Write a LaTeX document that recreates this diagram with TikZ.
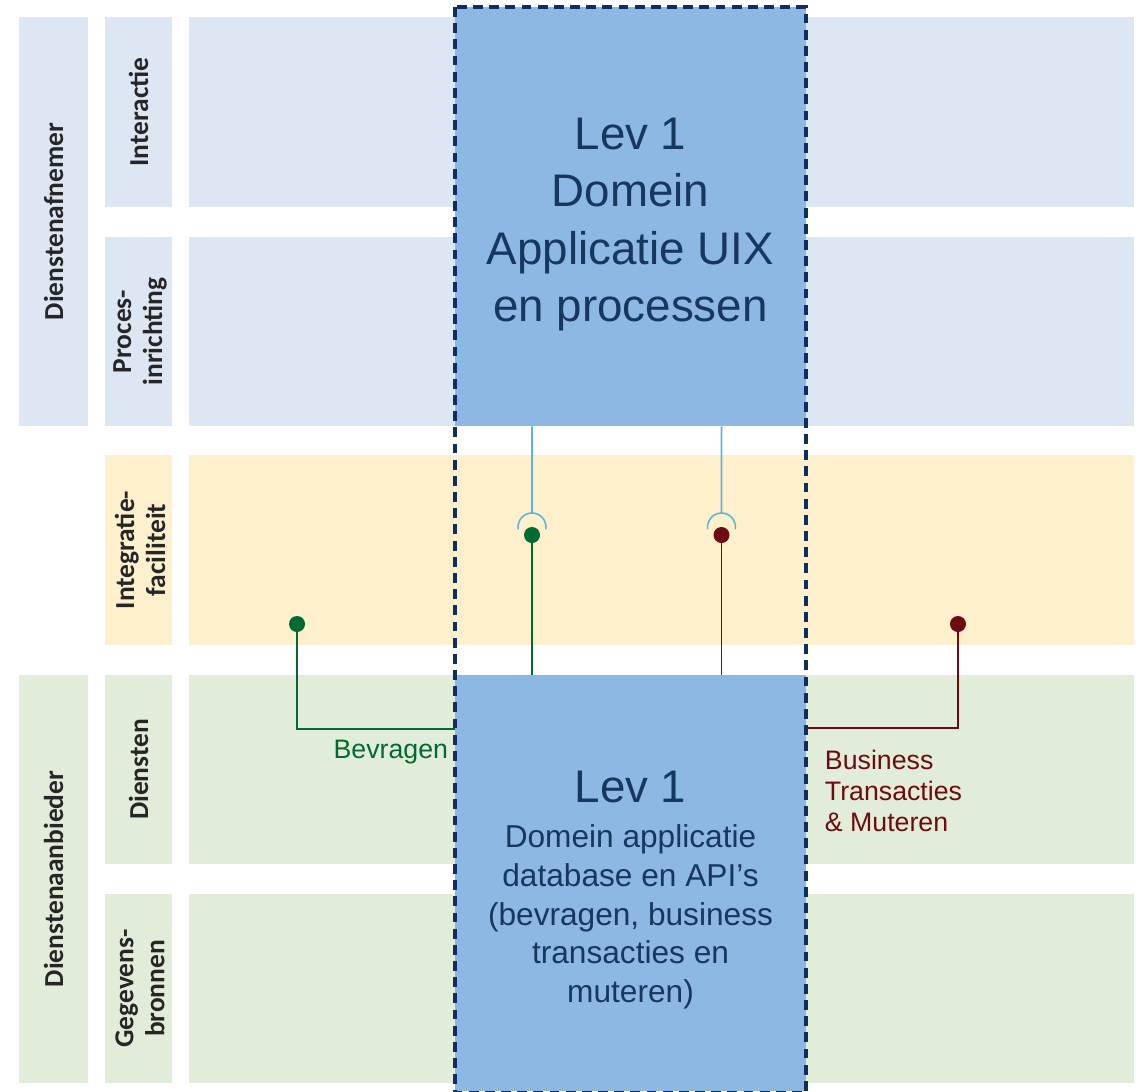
\documentclass[tikz,border=0pt]{standalone}
\usepackage{fontspec}
\setmainfont{Liberation Sans}
\newfontfamily\lanefont{Carlito}
\definecolor{afnemer}{HTML}{DDE7F4}
\definecolor{integratie}{HTML}{FEF0CD}
\definecolor{aanbieder}{HTML}{E2EDD9}
\definecolor{domein}{HTML}{8EB8E4}
\definecolor{kader}{HTML}{0F2D5F}
\definecolor{bevraag}{HTML}{006B30}
\definecolor{muteer}{HTML}{6D0A14}
\definecolor{koppel}{HTML}{5AB4E0}
\definecolor{tekst}{HTML}{17375E}
\begin{document}
\begin{tikzpicture}[x=0.025cm,y=-0.025cm,
  lane/.style={rotate=90, align=center, text=black!85,
    font=\lanefont\bfseries\fontsize{19.5}{22}\selectfont},
  domeinbox/.style={fill=domein, inner sep=0pt, minimum width=8.775cm},
  domeintekst/.style={align=center, text=tekst},
  punt/.style={circle, inner sep=0pt, minimum size=0.4cm},
  socket/.style={koppel, line width=1.1pt},
  lijn/.style={line width=1pt}]
\useasboundingbox (0,0) rectangle (1136,1091);

\fill[afnemer] (19,17) rectangle (88,426);
\fill[aanbieder] (19,675) rectangle (88,1083);
\foreach \ya/\yb/\kleur in {17/207/afnemer, 237/426/afnemer, 455/645/integratie,
    675/864/aanbieder, 894/1083/aanbieder}{
  \fill[\kleur] (105,\ya) rectangle (172,\yb);
  \fill[\kleur] (189,\ya) rectangle (1134,\yb);
}

\node[lane] (afnemer) at (53.5,221.5) {Dienstenafnemer};
\node[lane] (aanbieder) at (53.5,879) {Dienstenaanbieder};
\node[lane] (interactie) at (138.5,112) {Interactie};
\node[lane] (proces) at (140,331.5) {Proces-\\inrichting};
\node[lane] (integratie) at (140,550) {Integratie-\\faciliteit};
\node[lane] (diensten) at (138.5,769.5) {Diensten};
\node[lane] (bronnen) at (140,988.5) {Gegevens-\\bronnen};

\node[domeinbox, minimum height=10.475cm] (uix) at (630.5,216.5) {};
\node[domeinbox, minimum height=10.4cm] (api) at (630.5,883) {};
\node[domeintekst, font=\fontsize{32.5}{41}\selectfont] (uixtekst) at (630.5,224.5)
  {Lev 1\\Domein\\Applicatie UIX\\en processen};
\node[domeintekst, font=\fontsize{22.5}{27.5}\selectfont] (apitekst) at (630.5,890)
  {{\fontsize{32.5}{36}\selectfont Lev 1}\\[5pt]Domein applicatie\\database en API’s\\(bevragen, business\\transacties en\\muteren)};

\node[punt, fill=bevraag] (g1) at (532,535) {};
\node[punt, fill=muteer] (r1) at (721.5,535) {};
\node[punt, fill=bevraag] (g2) at (297,624) {};
\node[punt, fill=muteer] (r2) at (958,624) {};
\coordinate (k1) at (532,513);
\coordinate (k2) at (721.5,513);
\coordinate (bv) at (455,729);
\coordinate (bt) at (806,728);

\draw[socket] (g1 |- uix.south) -- (k1) arc[start angle=90, end angle=190, radius=0.35cm];
\draw[socket] (k1) arc[start angle=90, end angle=-10, radius=0.35cm];
\draw[socket] (r1 |- uix.south) -- (k2) arc[start angle=90, end angle=190, radius=0.35cm];
\draw[socket] (k2) arc[start angle=90, end angle=-10, radius=0.35cm];

\draw[lijn, bevraag] (g1) -- (g1 |- api.north);
\draw[lijn, muteer] (r1) -- (r1 |- api.north);
\draw[lijn, bevraag] (g2) |- (bv);
\draw[lijn, muteer] (r2) |- (bt);

\node[anchor=east, text=bevraag, font=\fontsize{19}{22}\selectfont] (bevragen) at (453,752) {Bevragen};
\node[anchor=west, align=left, text=muteer, font=\fontsize{19}{22}\selectfont]
  (muteren) at (820,791) {Business\\Transacties\\\& Muteren};

\draw[kader, line width=2.2pt, dash pattern=on 7pt off 4.5pt] (455,7) rectangle (806,1093);
\end{tikzpicture}
\end{document}
